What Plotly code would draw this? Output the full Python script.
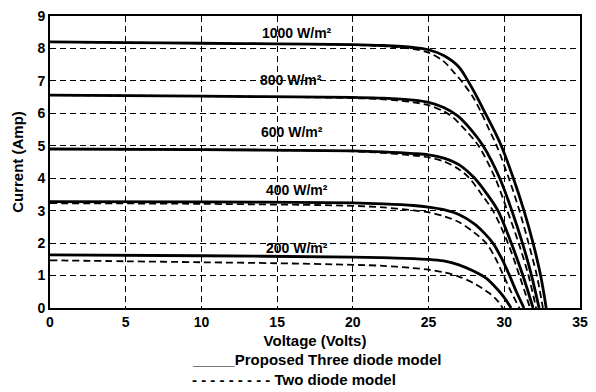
import plotly.graph_objects as go

# I-V characteristics of a PV module at five irradiance levels
irradiance_labels = ["1000 W/m²", "800 W/m²", "600 W/m²", "400 W/m²", "200 W/m²"]
label_v = [16.3, 15.9, 16.0, 16.3, 16.3]
label_i = [8.49, 7.04, 5.42, 3.65, 1.85]

# Proposed three diode model (solid)
v3_1000 = [0, 5, 10, 15, 20, 22, 24, 25, 26, 27, 27.6, 28.2, 28.75, 29.3, 29.8, 30.6, 31.3, 31.9, 32.4, 32.77]
i3_1000 = [8.2, 8.18, 8.16, 8.14, 8.12, 8.09, 8.03, 7.96, 7.78, 7.43, 7.0, 6.5, 6.0, 5.5, 5.0, 4.0, 3.0, 2.0, 1.0, 0]
v3_800 = [0, 10, 20, 22, 24, 25, 26, 26.9, 27.8, 28.6, 29.7, 30.5, 31.2, 31.8, 32.3]
i3_800 = [6.56, 6.53, 6.49, 6.47, 6.41, 6.34, 6.18, 5.93, 5.5, 5.0, 4.0, 3.0, 2.0, 1.0, 0]
v3_600 = [0, 10, 20, 22, 24, 25, 26, 27, 28, 28.8, 29.58, 30.46, 31.23, 31.9]
i3_600 = [4.9, 4.88, 4.84, 4.81, 4.76, 4.72, 4.62, 4.42, 4.02, 3.55, 3.0, 2.0, 1.0, 0]
v3_400 = [0, 10, 20, 22, 24, 25, 26, 27, 28, 28.7, 29.25, 29.8, 30.3, 30.8, 31.3]
i3_400 = [3.28, 3.27, 3.24, 3.21, 3.16, 3.11, 3.03, 2.88, 2.6, 2.3, 2.0, 1.55, 1.05, 0.5, 0]
v3_200 = [0, 10, 20, 22, 24, 25, 26, 27, 28, 28.8, 29.5, 30.0, 30.45]
i3_200 = [1.64, 1.61, 1.57, 1.55, 1.52, 1.5, 1.45, 1.33, 1.13, 0.92, 0.6, 0.32, 0]

# Two diode model (dashed)
v2_1000 = [0, 10, 20, 22, 24, 25, 26, 26.7, 27.25, 28.0, 28.5, 29.0, 29.5, 30.3, 31.0, 31.6, 32.15, 32.55]
i2_1000 = [8.2, 8.16, 8.11, 8.07, 7.98, 7.87, 7.6, 7.25, 6.95, 6.45, 6.0, 5.5, 5.0, 4.0, 3.0, 2.0, 1.0, 0]
v2_800 = [0, 10, 20, 22, 24, 25, 26, 26.6, 27.5, 28.3, 29.4, 30.2, 30.95, 31.6, 32.1]
i2_800 = [6.56, 6.53, 6.47, 6.43, 6.34, 6.25, 6.06, 5.88, 5.45, 5.0, 4.0, 3.0, 2.0, 1.0, 0]
v2_600 = [0, 10, 20, 22, 24, 25, 26, 27, 27.7, 28.5, 29.25, 30.24, 31.0, 31.7]
i2_600 = [4.9, 4.88, 4.83, 4.78, 4.7, 4.64, 4.52, 4.28, 4.0, 3.5, 3.0, 2.0, 1.0, 0]
v2_400 = [0, 10, 20, 22, 24, 25, 26, 27, 28, 28.8, 29.4, 29.9, 30.45, 31.0]
i2_400 = [3.23, 3.21, 3.15, 3.1, 3.01, 2.95, 2.83, 2.65, 2.33, 2.0, 1.55, 1.05, 0.5, 0]
v2_200 = [0, 5, 10, 15, 20, 22, 24, 25, 26, 27, 28, 29, 29.5, 29.9]
i2_200 = [1.47, 1.44, 1.41, 1.38, 1.33, 1.3, 1.23, 1.18, 1.1, 0.97, 0.76, 0.46, 0.25, 0]

x_ticks = [0, 5, 10, 15, 20, 25, 30, 35]
y_ticks = [0, 1, 2, 3, 4, 5, 6, 7, 8, 9]

FONT = "Liberation Sans, Arial, sans-serif"
TICK_FONT = dict(family=FONT, size=14, color="black", weight="bold")
LABEL_FONT = dict(family=FONT, size=14, color="black", weight="bold")
TITLE_FONT = dict(family=FONT, size=15, color="black", weight="bold")

fig = go.Figure()

three_diode = [(v3_1000, i3_1000), (v3_800, i3_800), (v3_600, i3_600), (v3_400, i3_400), (v3_200, i3_200)]
two_diode = [(v2_1000, i2_1000), (v2_800, i2_800), (v2_600, i2_600), (v2_400, i2_400), (v2_200, i2_200)]

for v, i in two_diode:
    fig.add_trace(go.Scatter(x=v, y=i, mode="lines",
                             line=dict(color="black", width=1.8, dash="7px,4px", shape="spline", smoothing=0.9),
                             showlegend=False, hoverinfo="skip"))
for v, i in three_diode:
    fig.add_trace(go.Scatter(x=v, y=i, mode="lines",
                             line=dict(color="black", width=2.8, shape="spline", smoothing=0.9),
                             showlegend=False, hoverinfo="skip"))

for text, xv, yv in zip(irradiance_labels, label_v, label_i):
    fig.add_annotation(x=xv, y=yv, xref="x", yref="y", text=text, showarrow=False, font=LABEL_FONT)

# Legend written as two text lines beneath the axis title
fig.add_annotation(x=0.2637, y=-0.178, xref="paper", yref="paper", text="_____Proposed Three diode model",
                   showarrow=False, xanchor="left", yanchor="middle", font=TITLE_FONT)
fig.add_annotation(x=0.2637, y=-0.246, xref="paper", yref="paper", text="- - - - - - - - - Two diode model",
                   showarrow=False, xanchor="left", yanchor="middle", font=TITLE_FONT)

axis_common = dict(showline=True, linecolor="black", linewidth=2, mirror=True,
                   showgrid=True, gridcolor="black", gridwidth=1, griddash="6px,4px",
                   zeroline=False, ticks="", tickfont=TICK_FONT)

fig.update_xaxes(range=[0, 35], tickvals=x_ticks, **axis_common,
                 title=dict(text="Voltage (Volts)", standoff=7, font=TITLE_FONT))
fig.update_yaxes(range=[0, 9], tickvals=y_ticks, **axis_common,
                 title=dict(text="Current (Amp)", standoff=10, font=TITLE_FONT))

fig.update_layout(width=596, height=392, margin=dict(l=50, r=15, t=8, b=84),
                  paper_bgcolor="white", plot_bgcolor="white", showlegend=False)

fig.write_html("out.html")
